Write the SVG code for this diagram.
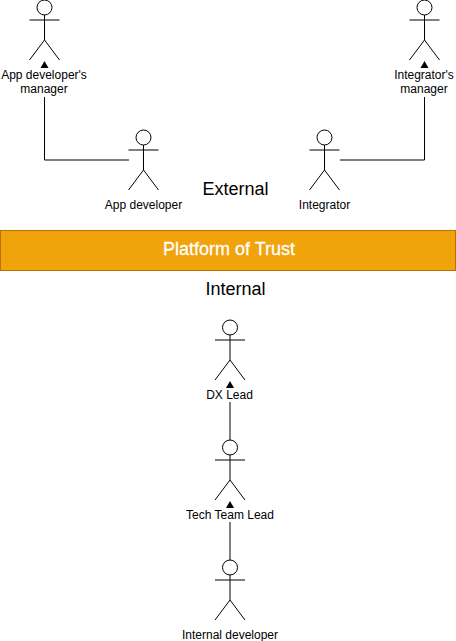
<svg xmlns="http://www.w3.org/2000/svg" width="456" height="641" viewBox="0 0 456 641">
<style>
text{font-family:"Liberation Sans",Arial,sans-serif;text-anchor:middle;fill:#000}
.l{font-size:12px}
.h{font-size:18px}
.a path,.a ellipse{fill:none;stroke:#000;stroke-width:1}
.a ellipse{fill:#fff}
.c{fill:none;stroke:#000;stroke-width:1}
.m{fill:#fff}
</style>
<defs>
<g id="actor" class="a">
<path d="M0 15V40M-15 20H15M-15 60L0 40L15 60"/>
<ellipse cx="0" cy="7.5" rx="7.5" ry="7.5"/>
</g>
<path id="tip" d="M0 0L4 7H-4Z" fill="#000"/>
</defs>
<g id="connectors">
<path class="c" d="M129 160H44.5V67"/>
<path class="c" d="M340 160H424.5V67"/>
<path class="c" d="M230 440V387"/>
<path class="c" d="M230 560V507"/>
<use href="#tip" x="44.5" y="61"/>
<use href="#tip" x="424.5" y="61"/>
<use href="#tip" x="230" y="381"/>
<use href="#tip" x="230" y="501"/>
</g>
<g id="app-dev-manager">
<use href="#actor" x="44.5" y="0"/>
<rect class="m" x="1" y="68" width="87" height="29"/>
<text class="l" x="44" y="79">App developer's</text>
<text class="l" x="44" y="93">manager</text>
</g>
<g id="app-dev">
<use href="#actor" x="143.5" y="130"/>
<text class="l" x="143.5" y="209">App developer</text>
</g>
<g id="integrator-manager">
<use href="#actor" x="424.5" y="0"/>
<rect class="m" x="393" y="68" width="62" height="29"/>
<text class="l" x="424" y="79">Integrator's</text>
<text class="l" x="424" y="93">manager</text>
</g>
<g id="integrator">
<use href="#actor" x="324.5" y="130"/>
<text class="l" x="324.5" y="209">Integrator</text>
</g>
<g id="external"><text class="h" x="235.5" y="195">External</text></g>
<g id="platform">
<rect x="0.5" y="230.5" width="455" height="40" fill="#f0a30a" stroke="#bd7000"/>
<text class="h" x="229" y="255" style="fill:#fff;stroke:#fff;stroke-width:.3">Platform of Trust</text>
</g>
<g id="internal"><text class="h" x="235.5" y="295">Internal</text></g>
<g id="dx-lead">
<use href="#actor" x="230" y="320"/>
<rect class="m" x="205" y="388" width="50" height="14"/>
<text class="l" x="229.5" y="399">DX Lead</text>
</g>
<g id="tech-lead">
<use href="#actor" x="230" y="440"/>
<rect class="m" x="185" y="508" width="90" height="14"/>
<text class="l" x="230" y="519">Tech Team Lead</text>
</g>
<g id="internal-dev">
<use href="#actor" x="230" y="560"/>
<text class="l" x="230" y="639">Internal developer</text>
</g>
</svg>
